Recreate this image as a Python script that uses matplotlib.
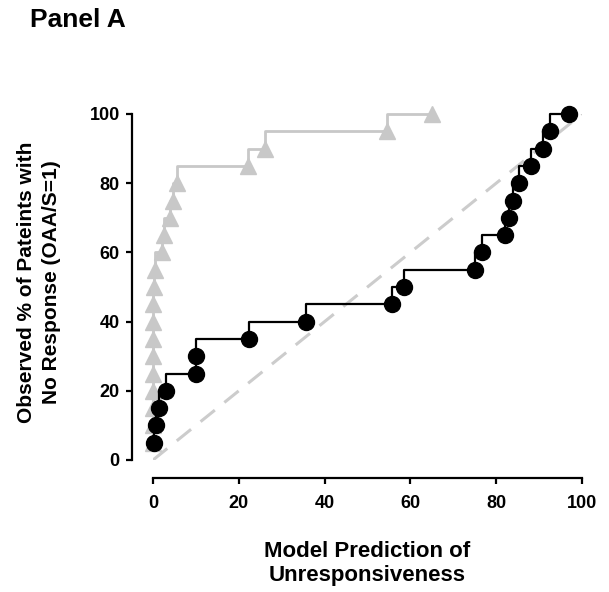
import matplotlib.pyplot as plt

plt.rcParams['font.family'] = ['Liberation Sans', 'DejaVu Sans']
plt.rcParams['font.weight'] = 'bold'

# observed % (cumulative) vs model prediction
obs_pct = [5, 10, 15, 20, 25, 30, 35, 40, 45, 50, 55, 60, 65, 70, 75, 80, 85, 90, 95, 100]
pred_model = [0.3, 0.7, 1.4, 3, 10, 10, 22.4, 35.7, 55.7, 58.5, 75, 76.7, 82, 83, 84, 85.3, 88, 91, 92.5, 97]
pred_gray = [0, 0, 0, 0, 0, 0, 0, 0, 0, 0.2, 0.5, 2.1, 2.6, 4.0, 4.7, 5.6, 22.1, 26, 54.5, 65]
ticks = [0, 20, 40, 60, 80, 100]

fig = plt.figure(figsize=(6.09, 5.92), dpi=100)
ax = fig.add_axes([153/609, 132/592, 429/609, 346/592])

# reference line
ax.plot([0, 100], [0, 100], color='#cccccc', lw=2.2, dashes=(6, 4), zorder=1)

ax.plot(pred_gray, obs_pct, drawstyle='steps-pre', color='#c8c8c8', lw=2, zorder=2, clip_on=False)
ax.plot(pred_gray, obs_pct, ls='none', marker='^', ms=11, color='#c8c8c8', zorder=2, clip_on=False)

ax.plot(pred_model, obs_pct, drawstyle='steps-pre', color='black', lw=1.6, zorder=3, clip_on=False)
ax.plot(pred_model, obs_pct, ls='none', marker='o', ms=11.5, color='black', zorder=4, clip_on=False)

ax.set_xlim(0, 100)
ax.set_ylim(0, 100)
ax.set_xticks(ticks)
ax.set_yticks(ticks)

for s in ['top', 'right']:
    ax.spines[s].set_visible(False)
ax.spines['left'].set_position(('outward', 15))
ax.spines['bottom'].set_position(('outward', 13))
for s in ['left', 'bottom']:
    ax.spines[s].set_linewidth(1.6)
ax.tick_params(width=1.6, length=4, labelsize=13)
ax.tick_params(axis='x', pad=8)
ax.tick_params(axis='y', pad=5)
for lab in ax.get_xticklabels() + ax.get_yticklabels():
    lab.set_fontweight('bold')

ax.set_xlabel('Model Prediction of\nUnresponsiveness', fontsize=16, fontweight='bold', labelpad=21)
ax.set_ylabel('Observed % of Pateints with\nNo Response (OAA/S=1)', fontsize=15, fontweight='bold',
              linespacing=1.4)
ax.yaxis.set_label_coords(-0.215, 0.514)

fig.text(30/609, 1 - 20/592, 'Panel A', fontsize=19, fontweight='bold', va='center', ha='left')

fig.savefig('out.png', dpi=100)
